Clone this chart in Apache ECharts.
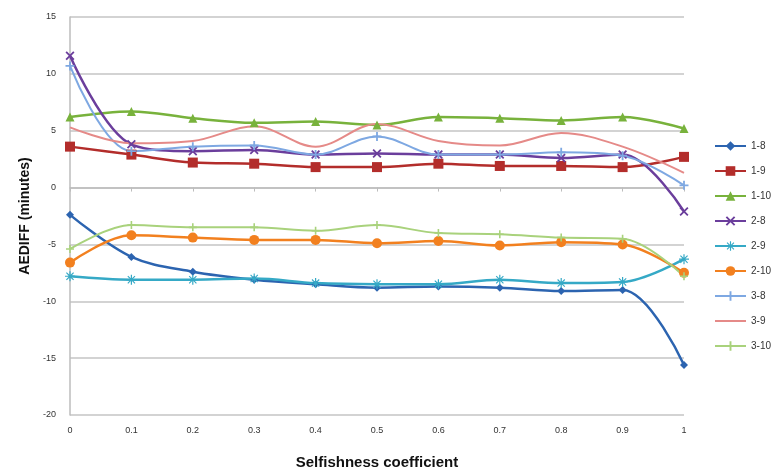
<!DOCTYPE html>
<html>
<head>
<meta charset="utf-8">
<script src="https://cdn.jsdelivr.net/npm/echarts@6/dist/echarts.min.js"></script>
<style>
  html, body { margin: 0; padding: 0; background: #fff; }
  #chart { width: 773px; height: 475px; }
</style>
</head>
<body>
<div id="chart"></div>
<script>
// Selfishness coefficient values on the x axis
var coefficients = [0, 0.1, 0.2, 0.3, 0.4, 0.5, 0.6, 0.7, 0.8, 0.9, 1];

// AEDIFF (minutes) per scenario
var s1_8  = [-2.4, -6.1, -7.4, -8.1, -8.5, -8.8, -8.7, -8.8, -9.1, -9.0, -15.6];
var s1_9  = [3.6, 2.9, 2.2, 2.1, 1.8, 1.8, 2.1, 1.9, 1.9, 1.8, 2.7];
var s1_10 = [6.2, 6.7, 6.1, 5.7, 5.8, 5.5, 6.2, 6.1, 5.9, 6.2, 5.2];
var s2_8  = [11.6, 3.8, 3.2, 3.3, 2.9, 3.0, 2.9, 2.9, 2.6, 2.9, -2.1];
var s2_9  = [-7.8, -8.1, -8.1, -8.0, -8.4, -8.5, -8.5, -8.1, -8.4, -8.3, -6.3];
var s2_10 = [-6.6, -4.2, -4.4, -4.6, -4.6, -4.9, -4.7, -5.1, -4.8, -5.0, -7.5];
var s3_8  = [10.7, 3.2, 3.6, 3.7, 2.9, 4.5, 2.9, 2.9, 3.1, 2.8, 0.2];
var s3_9  = [5.3, 3.9, 4.1, 5.4, 3.6, 5.6, 4.1, 3.7, 4.8, 3.6, 1.3];
var s3_10 = [-5.4, -3.3, -3.5, -3.5, -3.8, -3.3, -4.0, -4.1, -4.4, -4.5, -7.8];

var seriesNames = ['1-8', '1-9', '1-10', '2-8', '2-9', '2-10', '3-8', '3-9', '3-10'];
var seriesValues = [s1_8, s1_9, s1_10, s2_8, s2_9, s2_10, s3_8, s3_9, s3_10];

// Marker shapes
var plusPath = 'path://M4,0h2v4h4v2h-4v4h-2v-4h-4v-2h4z';
var crossPath = 'path://M1.4,0L5,3.6L8.6,0L10,1.4L6.4,5L10,8.6L8.6,10L5,6.4L1.4,10L0,8.6L3.6,5L0,1.4z';
var starPath = 'path://M4.4,0h1.2v3.6L8.2,1L9,1.8L6.4,4.4H10v1.2H6.4L9,8.2L8.2,9L5.6,6.4V10H4.4V6.4L1.8,9L1,8.2L3.6,5.6H0V4.4H3.6L1,1.8L1.8,1L4.4,3.6z';
// Plain line for the legend entry of the unmarked series
var linePath = 'path://M0,0h31v2H0z';

var styles = [
  { color: '#2C64B0', symbol: 'diamond',  size: 8,  width: 2.5 },
  { color: '#B32D2B', symbol: 'rect',     size: 10, width: 2.5 },
  { color: '#78B23C', symbol: 'triangle', size: 9,  width: 2.5 },
  { color: '#6B3E9C', symbol: crossPath,  size: 9,  width: 2.5 },
  { color: '#35A9C6', symbol: starPath,   size: 10, width: 2.5 },
  { color: '#F2801F', symbol: 'circle',   size: 10, width: 2.5 },
  { color: '#7EA8E2', symbol: plusPath,   size: 9,  width: 2 },
  { color: '#E58A88', symbol: 'none',     size: 0,  width: 2 },
  { color: '#A9D27C', symbol: plusPath,   size: 8,  width: 2 }
];

var series = seriesNames.map(function (name, i) {
  var st = styles[i];
  return {
    name: name,
    type: 'line',
    smooth: 0.35,
    data: seriesValues[i].map(function (v, j) { return [coefficients[j], v]; }),
    symbol: st.symbol,
    symbolSize: st.size,
    showSymbol: st.symbol !== 'none',
    lineStyle: { color: st.color, width: st.width },
    itemStyle: { color: st.color },
    emphasis: { disabled: true }
  };
});

var legendData = seriesNames.map(function (name, i) {
  return styles[i].symbol === 'none' ? { name: name, icon: linePath } : { name: name };
});

var chart = echarts.init(document.getElementById('chart'), null, { renderer: 'canvas' });
chart.setOption({
  animation: false,
  backgroundColor: '#ffffff',
  textStyle: { fontFamily: 'Liberation Sans, Arial, sans-serif' },
  grid: { left: 70, right: 89, top: 17, bottom: 54, containLabel: false },
  legend: {
    orient: 'vertical',
    left: 709,
    top: 136,
    itemWidth: 31,
    itemHeight: 12,
    itemGap: 15,
    data: legendData,
    textStyle: { fontSize: 10, color: '#333', fontFamily: 'Liberation Sans, Arial, sans-serif' }
  },
  xAxis: {
    type: 'value',
    min: 0,
    max: 1,
    interval: 0.1,
    name: 'Selfishness coefficient',
    nameLocation: 'middle',
    nameGap: 40,
    nameTextStyle: { fontSize: 15, fontWeight: 'bold', color: '#111' },
    axisLine: { show: true, lineStyle: { color: '#BDBDBD', width: 1.5 } },
    axisTick: { show: true, length: 4, lineStyle: { color: '#BDBDBD' } },
    axisLabel: {
      fontSize: 9, color: '#333', margin: 11,
      formatter: function (v) { return String(Math.round(v * 10) / 10); }
    },
    splitLine: { show: false }
  },
  yAxis: {
    type: 'value',
    min: -20,
    max: 15,
    interval: 5,
    name: 'AEDIFF (minutes)',
    nameLocation: 'middle',
    nameGap: 37,
    nameTextStyle: { fontSize: 14, fontWeight: 'bold', color: '#111' },
    axisLine: { show: true, lineStyle: { color: '#BDBDBD', width: 1.5 } },
    axisTick: { show: false },
    axisLabel: { fontSize: 9, color: '#333', margin: 14 },
    splitLine: { show: true, lineStyle: { color: '#C4C4C4', width: 1.5 } }
  },
  series: series
});
</script>
</body>
</html>
